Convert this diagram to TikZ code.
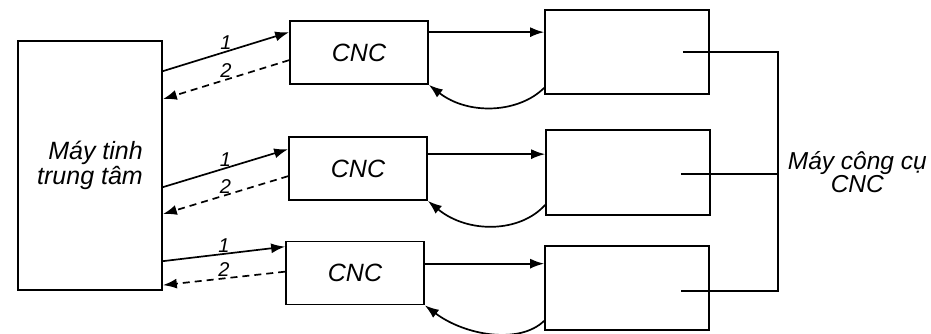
\documentclass[tikz,border=0pt]{standalone}
\usepackage{fontspec}
\setmainfont{Liberation Sans}
\usetikzlibrary{arrows.meta}
\begin{document}
\begin{tikzpicture}[x=1pt,y=-1pt,line width=1.7pt,
  box/.style={draw,inner sep=0pt,font=\itshape\fontsize{25}{22}\selectfont},
  cncbox/.style={box,minimum width=138pt,minimum height=63pt},
  mbox/.style={box,minimum width=164pt,minimum height=84pt},
  lab/.style={font=\itshape\fontsize{20}{20}\selectfont,inner sep=0.5pt,above=0.5pt},
  arr/.style={-{Latex[length=14pt,width=10pt]}},
  dsh/.style={dash pattern=on 7pt off 5pt}]
\useasboundingbox (0,0) rectangle (931,333);
\node[box,minimum width=144pt,minimum height=249pt,align=right] (comp) at (90,165.5) {Máy tinh\\trung tâm};
\node[cncbox] (c1) at (359,52.5) {CNC};
\node[cncbox] (c2) at (358,168.5) {CNC};
\node[cncbox] (c3) at (355,273) {CNC};
\node[mbox] (m1) at (627,52) {};
\node[mbox,minimum height=85pt] (m2) at (628,172.5) {};
\node[mbox] (m3) at (627,288) {};
\node[font=\itshape\fontsize{24.5}{22}\selectfont,align=center,anchor=west,inner sep=0pt] (lbl) at (787,172) {Máy công cụ\\CNC};
% computer <-> CNC
\draw[arr] ([yshift=-31pt]comp.north east) -- node[lab]{1} ([yshift=-12pt]c1.north west);
\draw[arr,dsh] ([yshift=-40pt]c1.north west) -- node[lab]{2} ([yshift=-59pt]comp.north east);
\draw[arr] ([yshift=-147pt]comp.north east) -- node[lab]{1} ([yshift=-13pt]c2.north west);
\draw[arr,dsh] ([yshift=-40pt]c2.north west) -- node[lab]{2} ([yshift=-174pt]comp.north east);
\draw[arr] ([yshift=-221pt]comp.north east) -- node[lab]{1} ([yshift=-6pt]c3.north west);
\draw[arr,dsh] ([yshift=-31pt]c3.north west) -- node[lab]{2} ([yshift=-245pt]comp.north east);
% CNC -> machine
\draw[arr] ([yshift=-12pt]c1.north east) -- ([yshift=-12pt]c1.north east -| m1.west);
\draw[arr] ([yshift=-18pt]c2.north east) -- ([yshift=-18pt]c2.north east -| m2.west);
\draw[arr] ([yshift=-23pt]c3.north east) -- ([yshift=-23pt]c3.north east -| m3.west);
% feedback
\draw[arr] ([yshift=7pt]m1.south west) .. controls +(-25,25) and +(40,31) .. (c1.south east);
\draw[arr] ([yshift=11pt]m2.south west) .. controls +(-25,28) and +(40,33) .. (c2.south east);
\draw[arr] ([yshift=10pt]m3.south west) .. controls +(-25,24) and +(40,30) .. (c3.south east);
% bus
\coordinate (s1) at ([xshift=-27pt]m1.east);
\coordinate (s2) at ([xshift=-30pt,yshift=-1.5pt]m2.east);
\coordinate (s3) at ([xshift=-29pt,yshift=-3pt]m3.east);
\coordinate (bus) at ([xshift=68pt]m1.east);
\draw (s1) -- (bus) -- (bus |- s3) -- (s3);
\draw (s2) -- (bus |- s2);
\end{tikzpicture}
\end{document}
